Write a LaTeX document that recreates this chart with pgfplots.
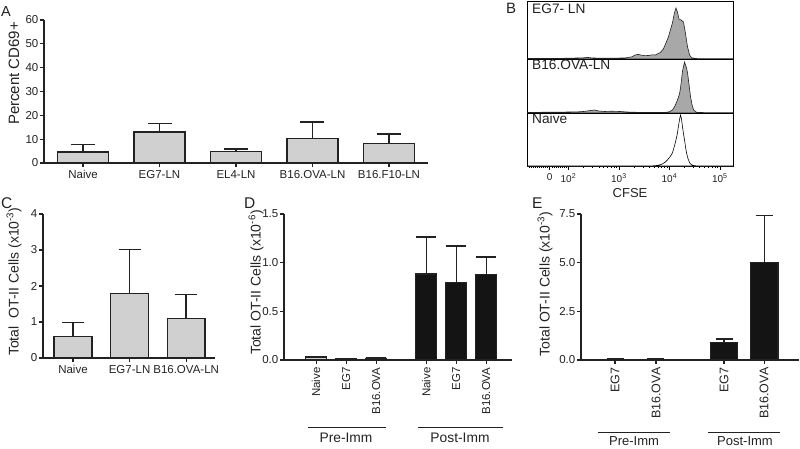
\documentclass[border=0pt]{standalone}
\usepackage{pgfplots}
\pgfplotsset{compat=1.18}
\usepackage{fontspec}
\setmainfont{Liberation Sans}
\definecolor{barg}{HTML}{D0D0D0}
\definecolor{axc}{HTML}{222222}
\definecolor{histg}{HTML}{A8A8A8}
\definecolor{blk}{HTML}{141414}
\newcommand{\fs}[1]{\fontsize{#1}{#1}\selectfont}
\pgfplotsset{
  fig/.style={
    scale only axis, anchor=south west,
    axis lines=left,
    axis line style={-, line width=1.3pt, axc},
    tick style={line width=1.1pt, axc},
    major tick length=4pt,
    tick align=outside,
    /pgf/number format/assume math mode=true,
    tick label style={font=\fs{11.5}, text=axc},
    yticklabel style={inner sep=1.5pt},
    ylabel style={font=\fs{14}, text=axc, anchor=center, rotate=0},
    ymin=0,
  },
  bars/.style 2 args={ybar, bar width=#1, line width=1.3pt, draw=axc,
    error bars/y dir=plus, error bars/y explicit,
    error bars/error mark=|,
    error bars/error bar style={line width=1.3pt, axc},
    error bars/error mark options={line width=1.3pt, axc, mark size=#2}},
  hist/.style={
    scale only axis, anchor=south west,
    width=206pt, xmin=1.18, xmax=5.26, ymin=0,
    axis line style={line width=0.8pt, black},
    ytick=\empty, xtick=\empty,
  },
}
\begin{document}
\begin{tikzpicture}[x=1pt,y=1pt]
\path[use as bounding box] (0,0) rectangle (800,448);

% ---------- Panel A ----------
\begin{axis}[fig, at={(44pt,285pt)}, width=384pt, height=143pt,
  xmin=-0.51, xmax=4.51, ymax=60, ytick={0,10,...,60},
  xtick={0,1,2,3,4},
  xticklabels={Naive,EG7-LN,EL4-LN,B16.OVA-LN,B16.F10-LN},
  ylabel={Percent CD69+},
  ylabel style={at={(axis description cs:-0.078,0.626)}, font=\fs{15}}]
\addplot[bars={0.67}{12pt}, fill=barg]
  coordinates {(0,4.6) +- (0,3.1) (1,13.0) +- (0,3.6) (2,4.8) +- (0,1.1)
               (3,10.4) +- (0,6.8) (4,8.2) +- (0,4.0)};
\end{axis}

% ---------- Panel B ----------
\begin{axis}[hist, at={(527pt,389pt)}, height=58pt, ymax=58]
\addplot[fill=histg, draw=axc, line width=0.6pt] coordinates {
(1.18,0.5) (1.5,0.6) (1.82,0.6) (2.1,0.9) (2.3,1.2) (2.38,1.6) (2.46,1.1)
(2.62,0.8) (2.9,0.9) (3.12,1.0) (3.26,2.2) (3.32,4.0) (3.38,4.6) (3.45,3.8)
(3.52,3.3) (3.6,3.6) (3.66,4.2) (3.72,4.0) (3.76,5.0) (3.82,6.5) (3.88,10)
(3.94,17) (3.98,22) (4.02,29) (4.06,36) (4.10,46) (4.13,51) (4.16,47)
(4.19,40) (4.23,39) (4.28,37) (4.32,25) (4.36,12) (4.40,4) (4.44,1.2)
(4.55,0.4) (4.8,0.3) (5.26,0.2)} \closedcycle;
\end{axis}
\begin{axis}[hist, at={(527pt,335pt)}, height=54pt, ymax=54]
\addplot[fill=histg, draw=axc, line width=0.6pt] coordinates {
(1.18,0.5) (1.6,0.8) (1.9,0.9) (2.2,1.2) (2.32,1.6) (2.45,2.6) (2.52,3.0)
(2.6,2.0) (2.72,1.5) (2.85,1.8) (3.02,1.5) (3.2,0.9) (3.42,0.6) (3.7,0.5)
(3.92,0.6) (4.0,1.2) (4.06,3) (4.11,7) (4.16,13) (4.20,19) (4.22,25)
(4.24,33) (4.26,42) (4.30,51) (4.34,45) (4.36,40) (4.39,28) (4.42,16)
(4.45,8) (4.48,3) (4.54,0.6) (4.8,0.3) (5.26,0.2)} \closedcycle;
\end{axis}
\begin{axis}[hist, at={(527pt,282pt)}, height=53pt, ymax=53,
  xtick={1.63,2,3,4,5},
  xticklabels={0,10\textsuperscript{2},10\textsuperscript{3},10\textsuperscript{4},10\textsuperscript{5}},
  minor xtick={1.22,1.26,1.30,1.34,1.38,1.42,1.46,1.50,1.54,1.58,1.68,1.72,1.76,1.80,1.84,1.88,1.92,1.96,
    2.301,2.477,2.602,2.699,2.778,2.845,2.903,2.954,
    3.301,3.477,3.602,3.699,3.778,3.845,3.903,3.954,
    4.301,4.477,4.602,4.699,4.778,4.845,4.903,4.954},
  xtick pos=left, tick align=outside,
  major tick length=3.5pt, minor tick length=2pt,
  tick style={line width=0.6pt, black},
  /pgf/number format/assume math mode=true,
  xticklabel style={font=\fs{10}, text=axc, inner sep=4pt},
  xlabel={CFSE}, xlabel style={font=\fs{13}, text=axc, inner sep=1pt, yshift=-1pt}]
\addplot[fill=white, draw=black, line width=0.6pt] coordinates {
(1.18,0) (3.6,0) (3.72,0.3) (3.80,1) (3.86,2) (3.92,4) (3.96,6) (4.01,9)
(4.06,13) (4.10,20) (4.13,26) (4.16,33) (4.18,40) (4.20,46) (4.22,51)
(4.24,47) (4.26,39) (4.28,32) (4.30,26) (4.32,19) (4.34,13) (4.37,7)
(4.40,3.5) (4.42,2) (4.46,0.8) (4.50,0.3) (4.58,0) (5.26,0)} \closedcycle;
\end{axis}
\node[anchor=base west, font=\fs{13.7}, text=axc, inner sep=0] at (532,434.5) {EG7- LN};
\node[anchor=base west, font=\fs{13.7}, text=axc, inner sep=0] at (532,378) {B16.OVA-LN};
\node[anchor=base west, font=\fs{13.7}, text=axc, inner sep=0] at (532,324.5) {Naive};

% ---------- Panel C ----------
\begin{axis}[fig, at={(43pt,90pt)}, width=172pt, height=144pt,
  xmin=-0.53, xmax=2.51, ymax=4, ytick={0,1,2,3,4},
  xtick={0,1,2}, xticklabels={Naive,EG7-LN,B16.OVA-LN},
  ylabel={Total\ \ OT-II Cells (x10\textsuperscript{-3})},
  ylabel style={at={(axis description cs:-0.169,0.53)}}]
\addplot[bars={0.67}{11pt}, fill=barg]
  coordinates {(0,0.60) +- (0,0.39) (1,1.79) +- (0,1.23) (2,1.09) +- (0,0.67)};
\end{axis}

% ---------- Panel D ----------
\begin{axis}[fig, at={(284pt,88pt)}, width=228pt, height=146pt,
  xmin=-1.07, xmax=6.53, ymax=1.5, ytick={0,0.5,1,1.5},
  yticklabel style={/pgf/number format/.cd, fixed, fixed zerofill, precision=1},
  xtick={0,1,2,3.67,4.67,5.67},
  xticklabels={Naive,EG7,B16.OVA,Naive,EG7,B16.OVA},
  xticklabel style={rotate=90, anchor=east, font=\fs{11.5}},
  ylabel={Total OT-II Cells (x10\textsuperscript{-6})},
  ylabel style={at={(axis description cs:-0.123,0.53)}}]
\addplot[bars={0.7}{10pt}, fill=barg]
  coordinates {(0,0.030) +- (0,0.006) (1,0.013) +- (0,0.004) (2,0.018) +- (0,0.008)};
\addplot[bars={0.7}{10pt}, fill=blk]
  coordinates {(3.67,0.884) +- (0,0.380) (4.67,0.798) +- (0,0.374) (5.67,0.880) +- (0,0.178)};
\end{axis}
\draw[line width=0.9pt, axc] (308,21) -- (386,21);
\draw[line width=0.9pt, axc] (418,21) -- (503,21);
\node[font=\fs{13.8}, text=axc, inner sep=0] at (346,10) {Pre-Imm};
\node[font=\fs{13.8}, text=axc, inner sep=0] at (460,10) {Post-Imm};

% ---------- Panel E ----------
\begin{axis}[fig, at={(581pt,88pt)}, width=218pt, height=146pt,
  xmin=-0.83, xmax=4.49, ymax=7.5, ytick={0,2.5,5,7.5},
  yticklabel style={/pgf/number format/.cd, fixed, fixed zerofill, precision=1},
  xtick={0,1,2.66,3.64},
  xticklabels={EG7,B16.OVA,EG7,B16.OVA},
  xticklabel style={rotate=90, anchor=east, font=\fs{12.5}},
  ylabel={Total OT-II Cells (x10\textsuperscript{-3})},
  ylabel style={at={(axis description cs:-0.165,0.52)}}]
\addplot[bars={0.67}{8.5pt}, fill=barg]
  coordinates {(0,0.04) +- (0,0.01) (1,0.04) +- (0,0.01)};
\addplot[bars={0.67}{8.5pt}, fill=blk]
  coordinates {(2.66,0.91) +- (0,0.17) (3.64,5.02) +- (0,2.39)};
\end{axis}
\draw[line width=0.9pt, axc] (598,16) -- (670,16);
\draw[line width=0.9pt, axc] (708,16) -- (780,16);
\node[font=\fs{13}, text=axc, inner sep=0] at (634,6.5) {Pre-Imm};
\node[font=\fs{13}, text=axc, inner sep=0] at (745,6.5) {Post-Imm};

% ---------- Panel letters ----------
\node[anchor=base west, font=\fs{14.5}, text=axc, inner sep=0] at (1,431) {A};
\node[anchor=base west, font=\fs{15}, text=axc, inner sep=0] at (506,434.5) {B};
\node[anchor=base west, font=\fs{15.5}, text=axc, inner sep=0] at (1,240) {C};
\node[anchor=base west, font=\fs{15.5}, text=axc, inner sep=0] at (244,240) {D};
\node[anchor=base west, font=\fs{15.5}, text=axc, inner sep=0] at (532,240) {E};
\end{tikzpicture}
\end{document}
